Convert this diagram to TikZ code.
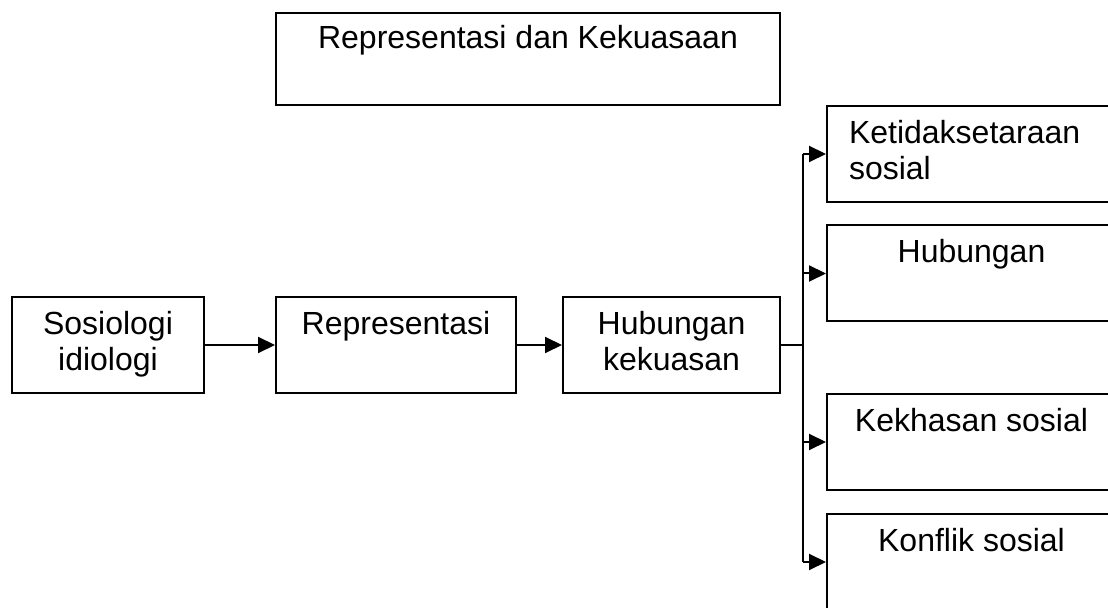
\documentclass[tikz,border=0pt]{standalone}
\usepackage{fontspec}
\setmainfont{Liberation Sans}
\usetikzlibrary{arrows.meta}

\begin{document}
\begin{tikzpicture}[x=0.5pt, y=-0.5pt, line width=1pt,
    >={Triangle[length=8.5pt,width=8pt]},
    boite/.style={draw, inner sep=0pt, align=center, minimum height=48pt,
        font=\fontsize{16}{18}\selectfont},
    droite/.style={boite, minimum width=144.5pt}]
    \clip (0,0) rectangle (1108,608);

                % Définitions des boîtes
                \node[boite, minimum width=252pt, minimum height=46pt] (titre) at (528,59) {\strut Representasi dan Kekuasaan\\\strut};
                \node[boite, minimum width=96pt] (sosio) at (108,345) {\strut Sosiologi\\\strut idiologi};
                \node[boite, minimum width=120pt] (repr) at (396,345) {\strut Representasi\\\strut};
                \node[boite, minimum width=108.5pt] (hub) at (671.5,345) {\strut Hubungan\\\strut kekuasan};
                \node[droite, align=left, text width=122.5pt] (ketidak) at (971.5,154) {\strut Ketidaksetaraan\\\strut sosial};
                \node[droite] (hubungan) at (971.5,273.5) {\strut Hubungan\\\strut};
                \node[droite] (kekhasan) at (971.5,442) {\strut Kekhasan sosial\\\strut};
                \node[droite] (konflik) at (971.5,562) {\strut Konflik sosial\\\strut};
                \coordinate (cabang) at (803,345);

                % Définition des flèches
                \path[->]
                (sosio) edge (repr)
                (repr) edge (hub);
                \draw (hub) -- (cabang);
                \draw (cabang |- ketidak.west) -- (cabang |- konflik.west);
                \foreach \b in {ketidak, hubungan, kekhasan, konflik}
                    \draw[->] (cabang |- \b.west) -- (\b.west);

            \end{tikzpicture}
\end{document}
